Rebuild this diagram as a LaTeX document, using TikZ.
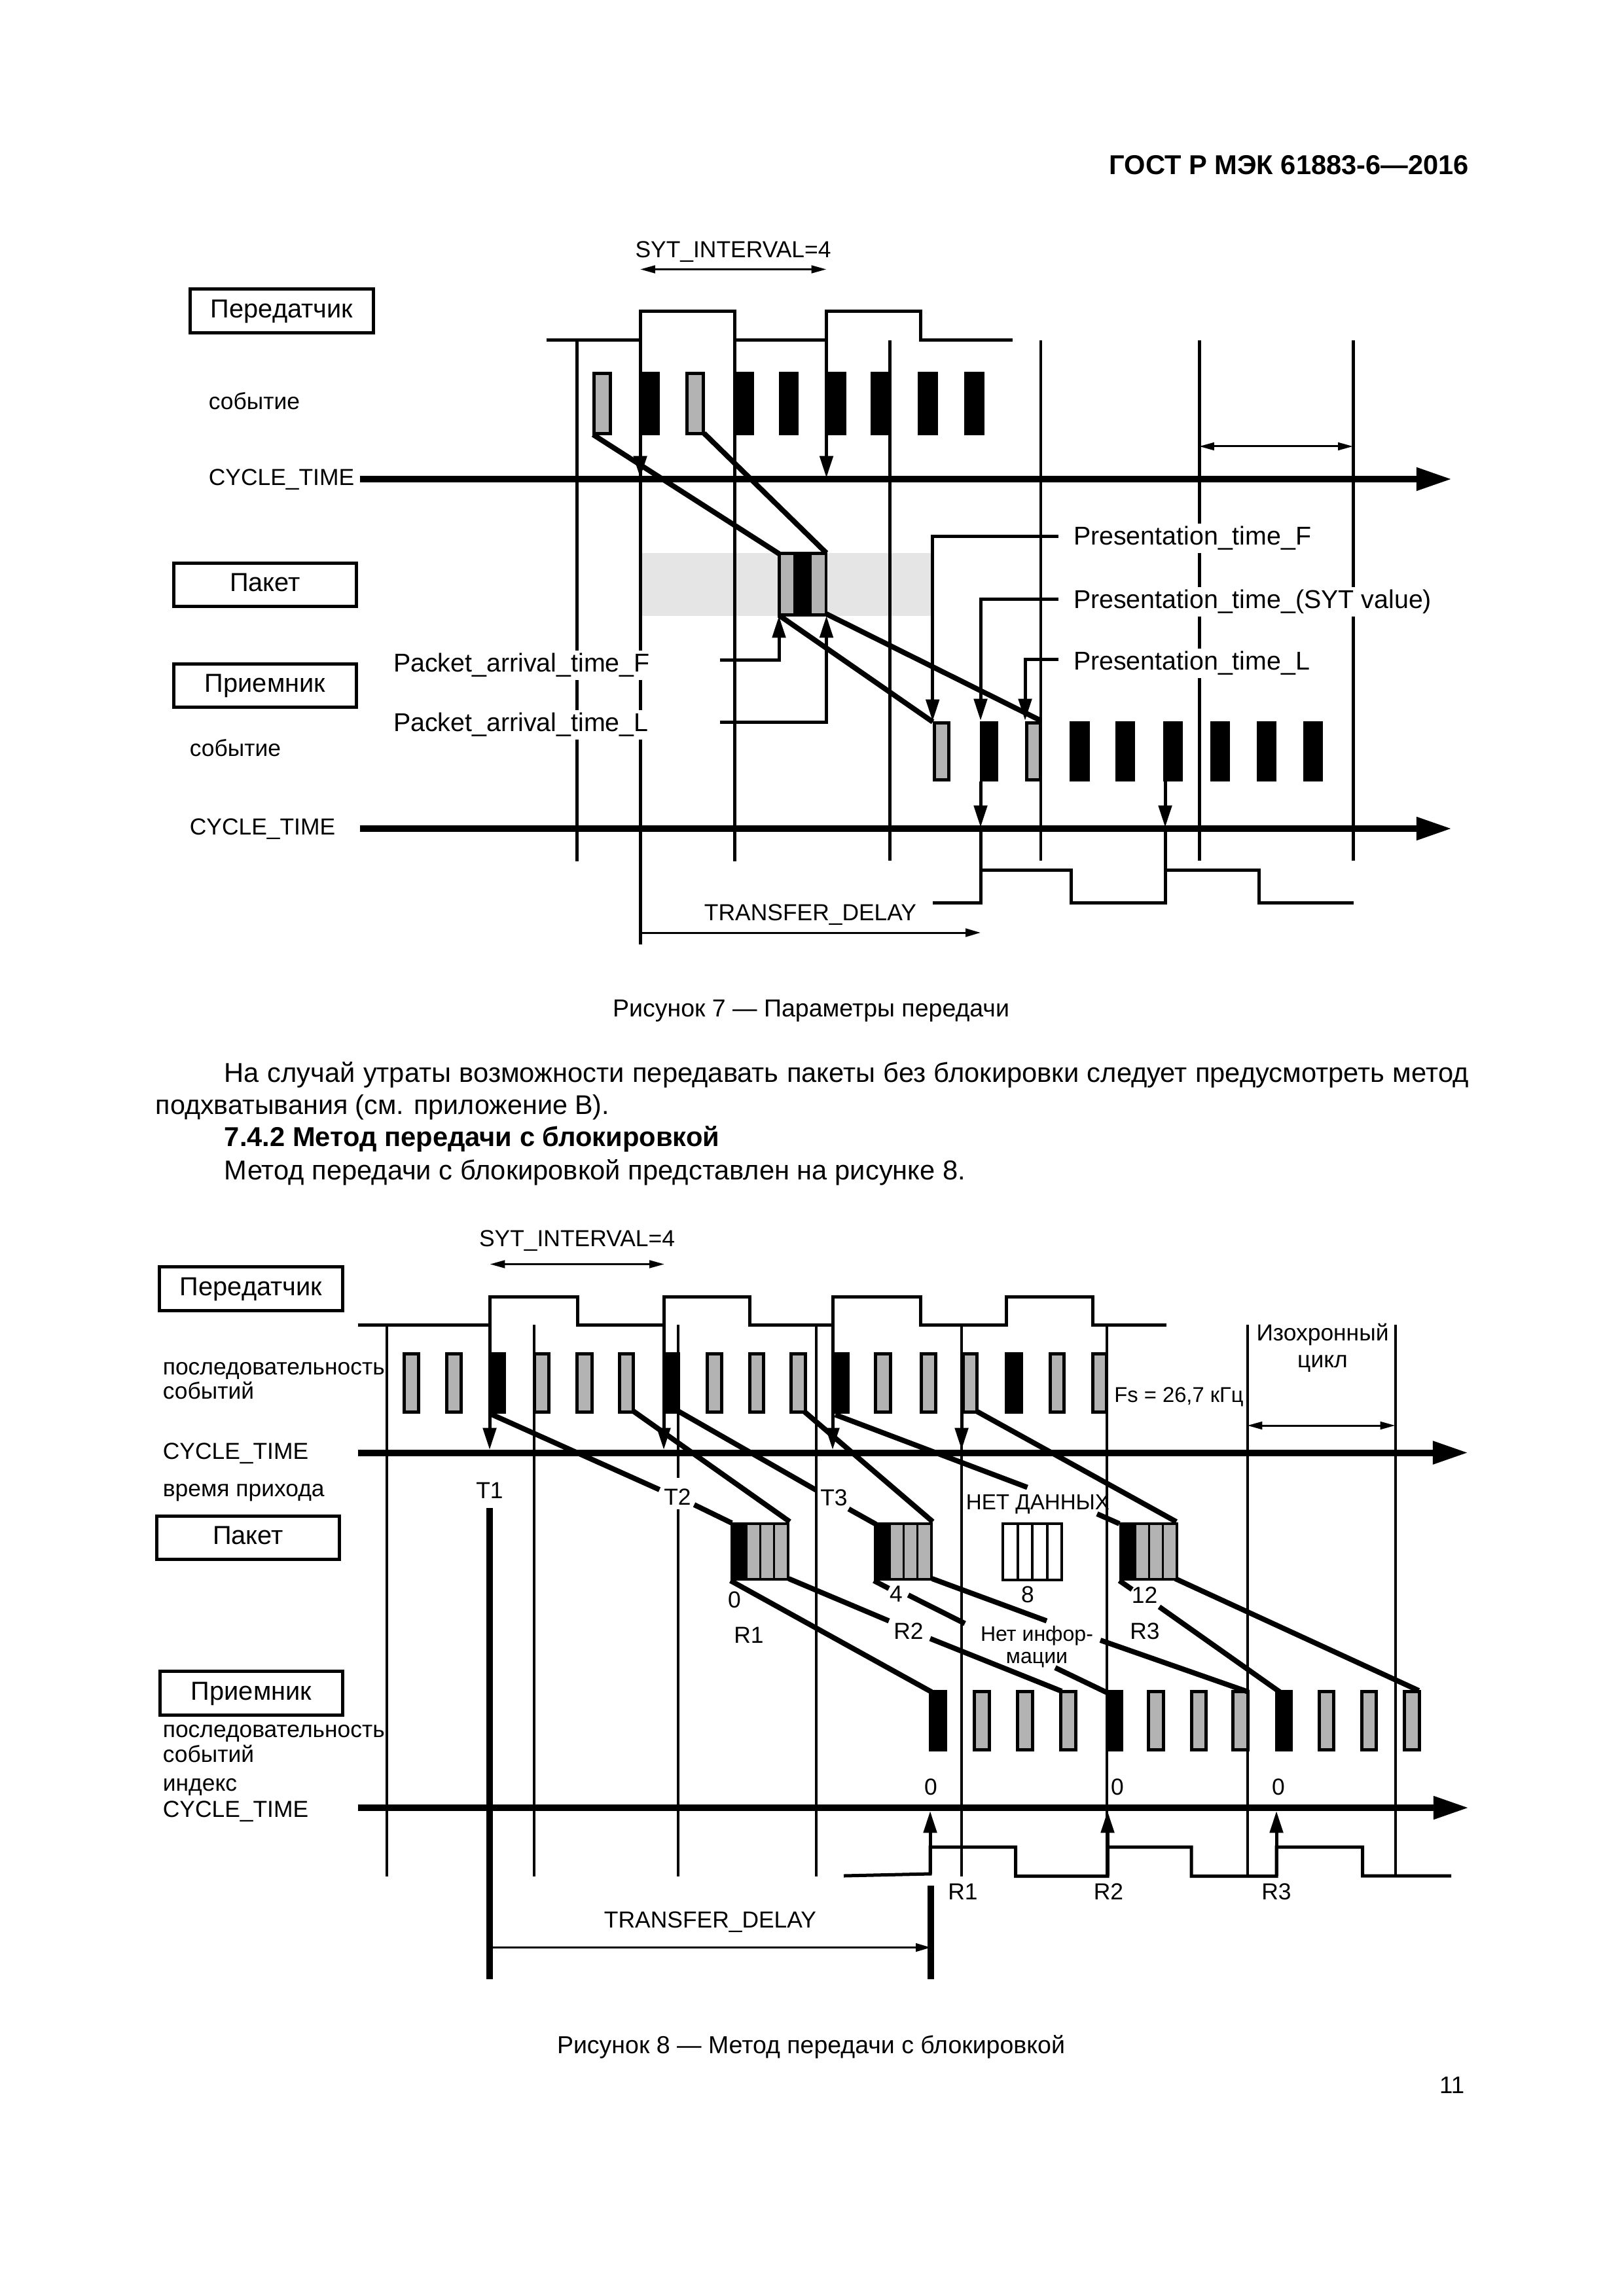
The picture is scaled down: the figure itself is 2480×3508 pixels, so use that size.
\documentclass[tikz,border=0pt]{standalone}
\usepackage{fontspec}
\setmainfont{Liberation Sans}
\usetikzlibrary{arrows.meta}
\definecolor{evgray}{HTML}{B3B3B3}
\definecolor{bandgray}{HTML}{E5E5E5}
\tikzset{
  w3/.style={line width=.72pt},
  w4/.style={line width=.96pt},
  w5/.style={line width=1.2pt},
  w8/.style={line width=1.9pt},
  w10/.style={line width=2.4pt},
  axisline/.style={w10,-{Triangle[length=13pt,width=8pt]}},
  tipdown/.style={w5,-{Triangle[length=8pt,width=4.8pt]}},
  dbl/.style={w3,{Triangle[length=5.5pt,width=2.8pt]}-{Triangle[length=5.5pt,width=2.8pt]}},
  sgl/.style={w3,-{Triangle[length=5.5pt,width=3pt]}},
  diag/.style={w8,line cap=butt},
  wave/.style={w5,line join=miter},
  vline/.style={w5},
  lbox/.style={draw,w5,minimum width=67pt,minimum height=16pt,inner sep=0pt,text height=6.9pt,text depth=1.9pt,font=\fontsize{9.55pt}{11pt}\selectfont},
  lb/.style={inner sep=0pt,anchor=mid west,yshift=-.45pt,font=\fontsize{8.5pt}{10pt}\selectfont},
  lc/.style={inner sep=0pt,anchor=mid,yshift=-.45pt,font=\fontsize{8.5pt}{10pt}\selectfont},
  lwh/.style={inner sep=1pt,anchor=mid west,fill=white,yshift=-.45pt,font=\fontsize{9.45pt}{11pt}\selectfont},
  bodytxt/.style={inner sep=0pt,anchor=base west,font=\fontsize{10pt}{12pt}\selectfont},
  captxt/.style={inner sep=0pt,anchor=base,font=\fontsize{9pt}{11pt}\selectfont},
}
\begin{document}
\begin{tikzpicture}[x=0.24pt,y=-0.24pt]
\useasboundingbox (0,0) rectangle (2480,3508);
\fill[white] (0,0) rectangle (2480,3508);
% page text
\node[inner sep=0pt,anchor=base east,font=\fontsize{10pt}{12pt}\selectfont\bfseries] (hdr) at (2245,267) {ГОСТ Р МЭК 61883-6—2016};
\node[captxt] (cap7) at (1239,1553) {Рисунок 7 — Параметры передачи};
\node[bodytxt] (p1) at (342,1653) {\makebox[456.2pt][s]{На случай утраты возможности передавать пакеты без блокировки следует предусмотреть метод}};
\node[bodytxt,font=\fontsize{9.9pt}{12pt}\selectfont] (p2) at (237,1702) {подхватывания (см. приложение В).};
\node[bodytxt,font=\fontsize{10pt}{12pt}\selectfont\bfseries] (p3) at (342,1751) {7.4.2 Метод передачи с блокировкой};
\node[bodytxt] (p4) at (342,1802) {Метод передачи с блокировкой представлен на рисунке 8.};
\node[captxt] (cap8) at (1239,3137) {Рисунок 8 — Метод передачи с блокировкой};
\node[inner sep=0pt,anchor=base east,font=\fontsize{8.8pt}{11pt}\selectfont] (pg) at (2238,3198) {11};

%%%%%%%%%%%%%%%%%%%% FIGURE 7
\fill[bandgray] (980,845) rectangle (1423,941);
\foreach \x/\a/\b in {881.5/520/1316,978/520/1443,1122/476/1316,1359/520/1315,1832/520/1315,2067/520/1315}
  \draw[vline] (\x,\a) -- (\x,\b);
\draw[w4] (1590,520) -- (1590,1315);
% top waveform
\draw[wave] (835,520) -- (978,520) -- (978,476) -- (1122,476) -- (1122,520) -- (1262.5,520) -- (1262.5,476) -- (1406.5,476) -- (1406.5,520) -- (1547,520);
% events
\foreach \a/\b in {978/1008,1122/1152,1190/1220,1262.5/1293,1330/1361,1402/1433,1473/1504}
  \fill (\a,568) rectangle (\b,665);
\foreach \a/\b in {905/935,1047/1077}
  \draw[w5,fill=evgray] (\a+2.5,570.5) rectangle (\b-2.5,662.5);
\foreach \a/\b in {1497/1525,1634/1665,1704/1734,1777/1807,1849/1879,1920/1950,1991/2021}
  \fill (\a,1102) rectangle (\b,1194);
\foreach \a/\b in {1425/1451.5,1566/1591.5}
  \draw[w5,fill=evgray] (\a+2.5,1104.5) rectangle (\b-2.5,1191.5);
% packet
\fill (1188,843) rectangle (1264,942);
\fill[evgray] (1193,848) rectangle (1212,937);
\fill[evgray] (1240,848) rectangle (1260,937);
% diagonals
\draw[diag] (906,664) -- (1190,846);
\draw[diag] (1075.5,662) -- (1262.5,845);
\draw[diag] (1190,940) -- (1425,1103);
\draw[diag] (1262.5,938) -- (1590,1101);
% arrows
\draw[tipdown] (978,665) -- (978,730);
\draw[tipdown] (1262.5,520) -- (1262.5,730);
\draw[tipdown] (1100,1008.5) -- (1190,1008.5) -- (1190,941);
\draw[tipdown] (1100,1103) -- (1262.5,1103) -- (1262.5,941);
\draw[tipdown] (1617,820) -- (1424.7,820) -- (1424.7,1102);
\draw[tipdown] (1617,916) -- (1498,916) -- (1498,1101);
\draw[tipdown] (1617,1007) -- (1566,1007) -- (1566,1101);
\draw[tipdown] (1498,1194) -- (1498,1264);
\draw[tipdown] (1780,1194) -- (1780,1264);
% bottom waveform
\draw[wave] (1424.7,1379) -- (1498,1379) -- (1498,1264);
\draw[wave] (1498,1329) -- (1636.6,1329) -- (1636.6,1379) -- (1780,1379) -- (1780,1264);
\draw[wave] (1780,1329) -- (1923,1329) -- (1923,1379) -- (2067.6,1379);
% axes
\draw[axisline] (550,732) -- (2218,732);
\draw[axisline] (550,1266) -- (2218,1266);
% dimension arrows
\draw[dbl] (978,411.5) -- (1262.5,411.5);
\draw[dbl] (1832,682) -- (2067,682);
\draw[sgl] (978,1425) -- (1498,1425);
% labels
\node[lbox] (tx7) at (430.5,475) {Передатчик};
\node[lbox] (pk7) at (405,893.5) {Пакет};
\node[lbox] (rx7) at (405,1047.5) {Приемник};
\node[lb] (ev7a) at (318,613) {событие};
\node[lb] (ct7a) at (318,729) {CYCLE\_TIME};
\node[lb] (ev7b) at (289,1143) {событие};
\node[lb] (ct7b) at (289,1263) {CYCLE\_TIME};
\node[lc,font=\fontsize{8.5pt}{10pt}\selectfont] (syt7) at (1120,381) {SYT\_INTERVAL=4};
\node[lc] (td7) at (1238,1394) {TRANSFER\_DELAY};
\node[lwh] (paf) at (596,1014) {Packet\_arrival\_time\_F};
\node[lwh] (pal) at (596,1105) {Packet\_arrival\_time\_L};
\node[lwh] (prf) at (1635,820) {Presentation\_time\_F};
\node[lwh] (prs) at (1635,917) {Presentation\_time\_(SYT value)};
\node[lwh] (prl) at (1635,1011) {Presentation\_time\_L};

%%%%%%%%%%%%%%%%%%%% FIGURE 8
\foreach \x/\a/\b in {591/2024/2867,815.5/2024/2867,1035.5/2024/2258,1035.5/2306/2867,1246.5/2024/2867,1469/2024/2867,1691/2024/2867,1905.5/2024/2867,2131.5/2024/2867}
  \draw[w4] (\x,\a) -- (\x,\b);
\draw[w10] (748,2304) -- (748,3024);
\draw[w10] (1422,2881) -- (1422,3024);
% top waveform
\draw[wave] (546.5,2024.5) -- (748,2024.5) -- (748,1981.5) -- (882,1981.5) -- (882,2024.5) -- (1014,2024.5) -- (1014,1981.5) -- (1145,1981.5) -- (1145,2024.5) -- (1272,2024.5) -- (1272,1981.5) -- (1406,1981.5) -- (1406,2024.5) -- (1537,2024.5) -- (1537,1981.5) -- (1669,1981.5) -- (1669,2024.5) -- (1782,2024.5);
% events, sender
\foreach \a/\b in {748/773,1014/1039,1270/1298,1535/1563}
  \fill (\a,2066) rectangle (\b,2160);
\foreach \a/\b in {615/642,680/707,814/840.5,879/907,944/970,1078/1105,1143/1169,1206/1233,1335/1363,1404.5/1431.5,1469/1495,1602/1627.5,1667/1693}
  \draw[w5,fill=evgray] (\a+2.5,2068.5) rectangle (\b-2.5,2157.5);
% events, receiver
\foreach \a/\b in {1419/1447,1689/1716,1947.5/1975}
  \fill (\a,2582) rectangle (\b,2676);
\foreach \a/\b in {1486/1514,1552/1580,1618/1646,1752/1780,1817.5/1845,1881/1909,2012.5/2040,2078/2105,2143/2170.5}
  \draw[w5,fill=evgray] (\a+2.5,2584.5) rectangle (\b-2.5,2673.5);
% packets
\foreach \a/\p in {1116/0,1335/1,1710/2}{
  \fill (\a,2326) rectangle (\a+90,2415);
  \foreach \g in {26,47,68}
    \fill[evgray] (\a+\g,2330) rectangle (\a+\g+18,2411);
}
\draw[w4,fill=white] (1532,2328) rectangle (1622,2414);
\foreach \x in {1555,1577,1600} \draw[w4] (\x,2328) -- (\x,2414);
% diagonals sender -> packet
\draw[diag] (751,2161) -- (1007.5,2276);
\draw[diag] (1060.5,2299) -- (1118,2327);
\draw[diag] (967.5,2156) -- (1206.5,2325);
\draw[diag] (1036,2156) -- (1246.5,2276.5);
\draw[diag] (1296.5,2305.5) -- (1338.5,2329);
\draw[diag] (1228.5,2156.5) -- (1425,2325);
\draw[diag] (1276,2161.5) -- (1569.5,2272.5);
\draw[diag] (1676,2313) -- (1710,2328);
\draw[diag] (1492.5,2156.5) -- (1797,2325);
% diagonals packet -> receiver
\draw[diag] (1116,2415) -- (1423,2585);
\draw[diag] (1205,2412) -- (1358,2476.5);
\draw[diag] (1421,2503.5) -- (1622,2584);
\draw[diag] (1335,2415) -- (1358,2427);
\draw[diag] (1387.5,2437) -- (1474,2480.5);
\draw[diag] (1612,2548) -- (1691,2586);
\draw[diag] (1424,2412) -- (1599,2476.5);
\draw[diag] (1681,2506) -- (1907,2585);
\draw[diag] (1710,2415) -- (1729.5,2428.5);
\draw[diag] (1771,2455) -- (1955,2585);
\draw[diag] (1795.5,2412) -- (2167.5,2583);
% down/up arrows
\draw[tipdown] (748,2024) -- (748,2215);
\draw[tipdown] (1014,2024) -- (1014,2215);
\draw[tipdown] (1272,2024) -- (1272,2215);
\draw[tipdown] (1469,2160) -- (1469,2215);
\draw[tipdown] (1421,2863) -- (1421,2767);
\draw[tipdown] (1692,2866) -- (1692,2767);
\draw[tipdown] (1950,2866) -- (1950,2767);
% bottom waveform
\draw[wave] (1289,2866) -- (1421,2863) -- (1421,2822) -- (1551.5,2822) -- (1551.5,2866.5) -- (1692,2866.5) -- (1692,2822) -- (1820,2822) -- (1820,2866.5) -- (1950,2866.5) -- (1950,2822) -- (2081.5,2822) -- (2081.5,2866) -- (2217,2866);
% axes
\draw[axisline] (546.5,2219.5) -- (2243,2219.5);
\draw[axisline] (547,2762) -- (2244,2762);
% dimension arrows
\draw[dbl] (748.5,1931.5) -- (1015,1931.5);
\draw[dbl] (1905.5,2178) -- (2131.5,2178);
\draw[sgl] (748,2975.5) -- (1422,2975.5);
% labels
\node[lbox] (tx8) at (383.5,1969) {Передатчик};
\node[lbox] (pk8) at (379,2349.5) {Пакет};
\node[lbox] (rx8) at (384,2587) {Приемник};
\node[lb] (seq8a) at (248,2088) {последовательность};
\node[lb] (seq8b) at (248,2125) {событий};
\node[lb] (ct8a) at (248,2217) {CYCLE\_TIME};
\node[lb] (arr8) at (248,2274) {время прихода};
\node[lb] (seq8c) at (248,2642) {последовательность};
\node[lb] (seq8d) at (248,2680) {событий};
\node[lb] (idx8) at (248,2724) {индекс};
\node[lb] (ct8b) at (248,2764) {CYCLE\_TIME};
\node[lc,font=\fontsize{8.5pt}{10pt}\selectfont] (syt8) at (881.5,1892) {SYT\_INTERVAL=4};
\node[lc] (td8) at (1085,2933) {TRANSFER\_DELAY};
\node[lc] (t1) at (748,2277) {T1};
\node[lc] (t2) at (1035,2287) {T2};
\node[lc] (t3) at (1274,2288) {T3};
\node[lc,font=\fontsize{7.95pt}{10pt}\selectfont] (nd) at (1585.5,2294) {НЕТ ДАННЫХ};
\node[lc] (n0) at (1122,2444) {0};
\node[lc] (n4) at (1369,2435) {4};
\node[lc] (n8) at (1570,2436) {8};
\node[lc] (n12) at (1748.5,2437) {12};
\node[lc] (r1a) at (1144,2498) {R1};
\node[lc] (r2a) at (1388,2492) {R2};
\node[lc] (r3a) at (1749,2492) {R3};
\node[lc,font=\fontsize{7.7pt}{9pt}\selectfont] (ni1) at (1584,2495) {Нет инфор-};
\node[lc,font=\fontsize{7.7pt}{9pt}\selectfont] (ni2) at (1584,2529) {мации};
\node[lc] (z1) at (1422,2730) {0};
\node[lc] (z2) at (1707,2730) {0};
\node[lc] (z3) at (1953,2730) {0};
\node[lc] (r1b) at (1471,2890) {R1};
\node[lc] (r2b) at (1693.5,2890) {R2};
\node[lc] (r3b) at (1950,2890) {R3};
\node[lc] (iso1) at (2020.5,2036) {Изохронный};
\node[lc] (iso2) at (2020.5,2077) {цикл};
\node[lc,font=\fontsize{7.85pt}{9pt}\selectfont] (fs) at (1801,2129.5) {Fs = 26,7 кГц};
\end{tikzpicture}
\end{document}
